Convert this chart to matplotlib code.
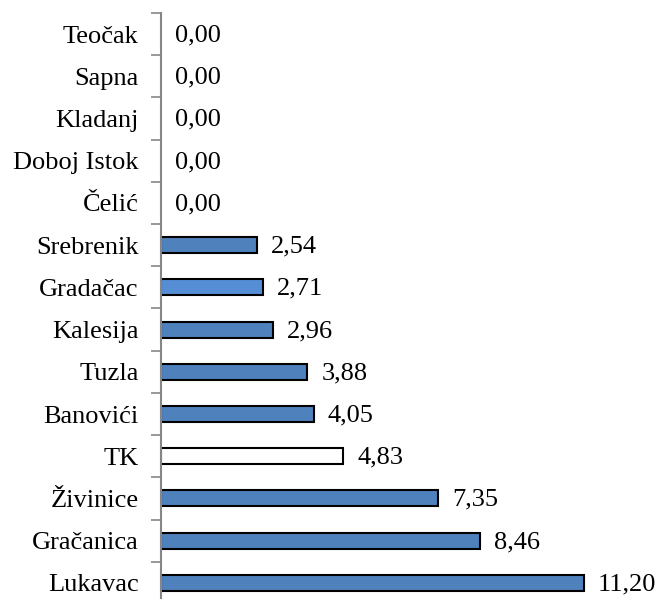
import matplotlib.pyplot as plt
import numpy as np

# Podaci (odozdo prema gore)
opcine = ['Lukavac', 'Gračanica', 'Živinice', 'TK', 'Banovići', 'Tuzla', 'Kalesija',
          'Gradačac', 'Srebrenik', 'Čelić', 'Doboj Istok', 'Kladanj', 'Sapna', 'Teočak']
vrijednosti = [11.20, 8.46, 7.35, 4.83, 4.05, 3.88, 2.96, 2.71, 2.54, 0, 0, 0, 0, 0]

plt.rcParams['font.family'] = ['Liberation Serif', 'DejaVu Serif']

fig = plt.figure(figsize=(6.61, 5.99), dpi=100)
# os ide malo ispod donjeg ruba slike (kao u originalu)
ax = fig.add_axes([161 / 661, -5 / 599, 453 / 661, 591 / 599])

boje = []
for o in opcine:
    if o == 'TK':
        boje.append('white')
    elif o == 'Gradačac':
        boje.append('#558ED5')
    else:
        boje.append('#4F81BD')
rubovi = [1.5 if v > 0 else 0 for v in vrijednosti]

y = np.arange(len(opcine))
ax.barh(y, vrijednosti, height=0.38, color=boje, edgecolor='black', linewidth=rubovi)

for yi, v in zip(y, vrijednosti):
    ax.annotate(f'{v:.2f}'.replace('.', ','), (v, yi), xytext=(10, -1), textcoords='offset points',
                va='center', ha='left', fontsize=19)

ax.set_xlim(0, 12)
ax.set_ylim(-0.5, len(opcine) - 0.5)

# crtice na granicama kategorija, nazivi u sredini
ax.set_yticks(np.arange(-0.5, len(opcine), 1))
ax.set_yticklabels([])
ax.set_yticks(y, minor=True)
ax.set_yticklabels(opcine, minor=True, fontsize=19)
ax.tick_params(axis='y', which='major', length=7, width=1.2, color='#868686', direction='out')
ax.tick_params(axis='y', which='minor', length=0, pad=16)

ax.set_xticks([])
for s in ['top', 'right', 'bottom']:
    ax.spines[s].set_visible(False)
ax.spines['left'].set_color('#868686')
ax.spines['left'].set_linewidth(1.5)

fig.savefig('out.png', dpi=100)
